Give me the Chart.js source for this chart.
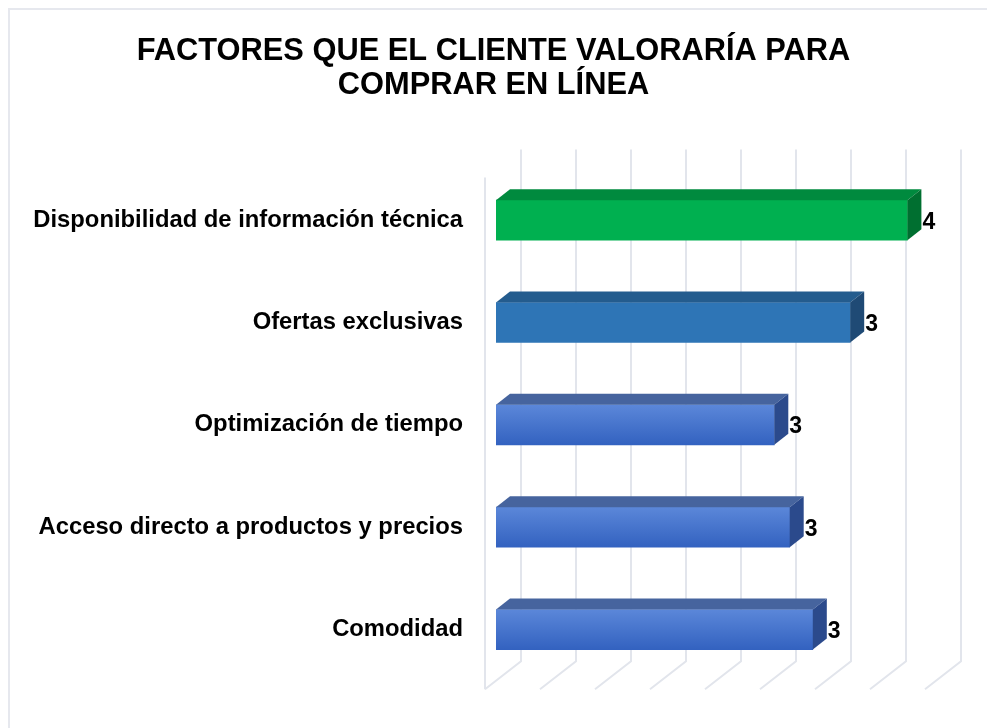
<!DOCTYPE html>
<html>
<head>
<meta charset="utf-8">
<script src="https://cdn.jsdelivr.net/npm/chart.js@4.4.0/dist/chart.umd.min.js"></script>
<style>
  body { margin: 0; background: #fff; }
  .wrap { position: relative; width: 987px; height: 728px; }
  .frame { position: absolute; left: 8px; top: 8px; width: 990px; height: 730px; border: 2px solid #e6e8ee; box-sizing: border-box; }
  canvas { position: absolute; left: 0; top: 0; }
</style>
</head>
<body>
<div class="wrap">
  <div class="frame"></div>
  <canvas id="chart" width="987" height="728"></canvas>
</div>
<script>
const categories = [
  'Disponibilidad de información técnica',
  'Ofertas exclusivas',
  'Optimización de tiempo',
  'Acceso directo a productos y precios',
  'Comodidad'
];
const values = [3.74, 3.22, 2.53, 2.67, 2.88];
const gridTicks = [0, 0.5, 1, 1.5, 2, 2.5, 3, 3.5, 4];

// front / top / side colours for each bar
const frontColors = ['#00b050', '#2e75b6', 'blue', 'blue', 'blue'];
const topColors = ['#008a3e', '#245c8e', '#46649e', '#46649e', '#46649e'];
const sideColors = ['#006f30', '#1f4a75', '#2b4a8c', '#2b4a8c', '#2b4a8c'];

const FONT = '"Liberation Sans", Arial, sans-serif';
const DEPTH_BACK = { x: 14, y: -11 };   // bar depth
const WALL_BACK = { x: 25, y: -19.5 };  // bar plane -> back wall
const WALL_FRONT = { x: -11, y: 8.5 };  // bar plane -> front of floor

const cube = {
  id: 'cube',
  beforeDatasetsDraw(chart) {
    const { ctx, chartArea: a, scales: { x } } = chart;
    ctx.save();
    ctx.strokeStyle = '#e2e5ec';
    ctx.lineWidth = 2;
    gridTicks.forEach(v => {
      const xf = x.getPixelForValue(v);
      ctx.beginPath();
      ctx.moveTo(xf + WALL_BACK.x, a.top + WALL_BACK.y);
      ctx.lineTo(xf + WALL_BACK.x, a.bottom + WALL_BACK.y);
      ctx.lineTo(xf + WALL_FRONT.x, a.bottom + WALL_FRONT.y);
      ctx.stroke();
    });
    const x0 = x.getPixelForValue(0) + WALL_FRONT.x;
    ctx.beginPath();
    ctx.moveTo(x0, a.top + WALL_FRONT.y);
    ctx.lineTo(x0, a.bottom + WALL_FRONT.y);
    ctx.stroke();
    ctx.restore();
  },
  afterDatasetsDraw(chart) {
    const { ctx } = chart;
    const meta = chart.getDatasetMeta(0);
    ctx.save();
    meta.data.forEach((bar, i) => {
      const h = bar.height / 2;
      const l = bar.base, r = bar.x, t = bar.y - h, b = bar.y + h;
      const dx = DEPTH_BACK.x, dy = DEPTH_BACK.y;
      // top face
      ctx.fillStyle = topColors[i];
      ctx.beginPath();
      ctx.moveTo(l, t);
      ctx.lineTo(l + dx, t + dy);
      ctx.lineTo(r + dx, t + dy);
      ctx.lineTo(r, t);
      ctx.closePath();
      ctx.fill();
      // side face
      ctx.fillStyle = sideColors[i];
      ctx.beginPath();
      ctx.moveTo(r, t);
      ctx.lineTo(r + dx, t + dy);
      ctx.lineTo(r + dx, b + dy);
      ctx.lineTo(r, b);
      ctx.closePath();
      ctx.fill();
      // value label
      ctx.fillStyle = '#000';
      ctx.font = 'bold 23px ' + FONT;
      ctx.textAlign = 'left';
      ctx.textBaseline = 'middle';
      ctx.fillText(String(Math.round(values[i])), r + dx + 1, bar.y + 2);
    });
    ctx.restore();
  }
};

const ctx = document.getElementById('chart').getContext('2d');
new Chart(ctx, {
  type: 'bar',
  data: {
    labels: categories,
    datasets: [{
      data: values,
      barThickness: 40,
      borderWidth: 0,
      backgroundColor: c => {
        const col = frontColors[c.dataIndex];
        if (col !== 'blue') return col;
        const y = c.chart.scales.y;
        if (!y) return '#4a76cf';
        const cy = y.getPixelForValue(c.dataIndex);
        const g = c.chart.ctx.createLinearGradient(0, cy - 20, 0, cy + 20);
        g.addColorStop(0, '#5b87d9');
        g.addColorStop(1, '#3362c0');
        return g;
      }
    }]
  },
  options: {
    indexAxis: 'y',
    responsive: false,
    animation: false,
    layout: { padding: { top: 0, right: 0, bottom: 44, left: 0 } },
    plugins: {
      legend: { display: false },
      tooltip: { enabled: false },
      title: {
        display: true,
        text: ['FACTORES QUE EL CLIENTE VALORARÍA PARA', 'COMPRAR EN LÍNEA'],
        color: '#000',
        font: { family: FONT, size: 30.8, weight: 'bold', lineHeight: 1.12 },
        padding: { top: 34, bottom: 66 }
      }
    },
    scales: {
      // plot runs to the canvas edge so the title centres on the page; 4 lands at x=936
      x: { display: false, min: 0, max: 4 * 491 / 440 },
      y: {
        grid: { display: false, drawTicks: false },
        border: { display: false },
        afterFit: s => { s.width = 496; },
        ticks: {
          color: '#000',
          padding: 33,
          font: { family: FONT, size: 23.8, weight: 'bold' }
        }
      }
    }
  },
  plugins: [cube]
});
</script>
</body>
</html>
